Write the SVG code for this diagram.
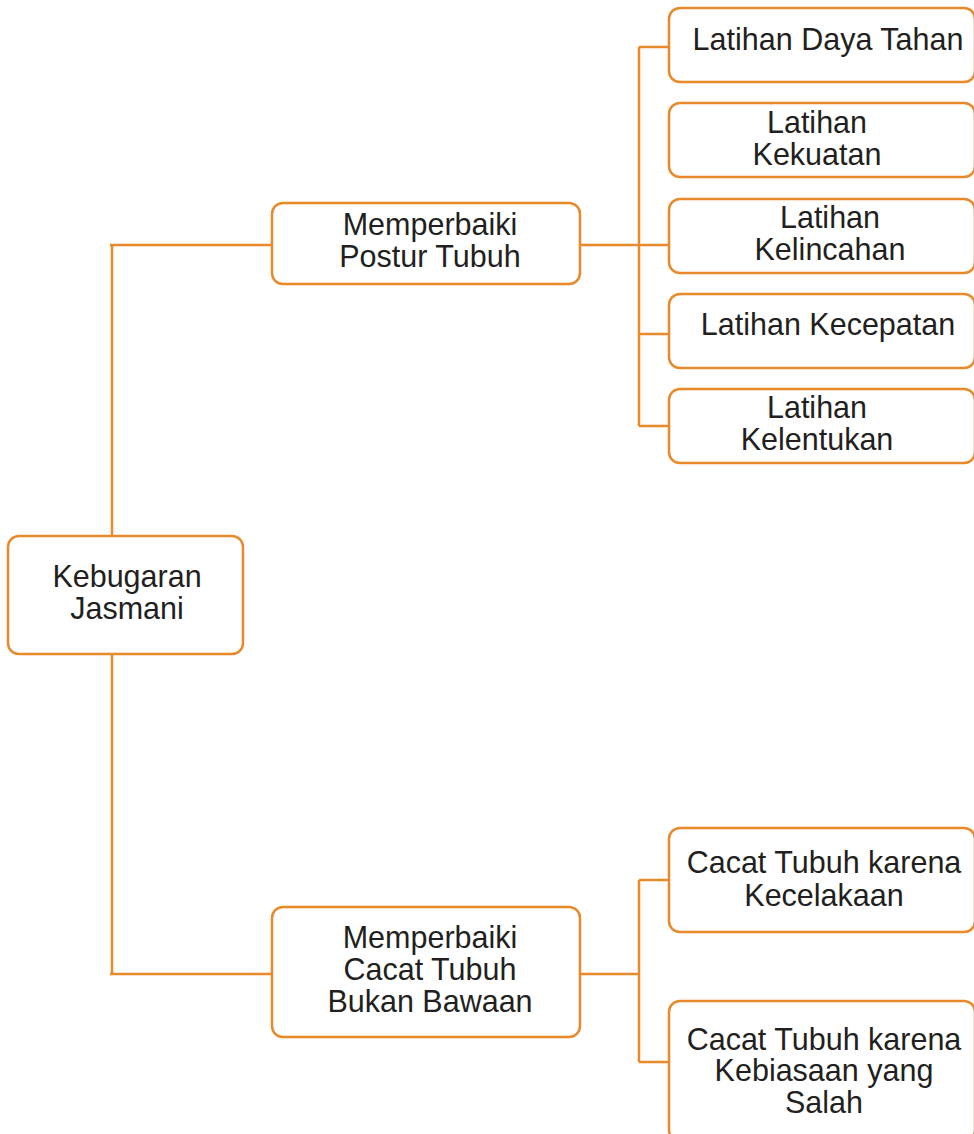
<svg xmlns="http://www.w3.org/2000/svg" width="974" height="1134" viewBox="0 0 974 1134">
<style>
.box{fill:#fff;stroke:#E8892A;stroke-width:2.5}
.ln{fill:none;stroke:#E8892A;stroke-width:2.5}
text{font-family:"Liberation Sans",Arial,sans-serif;font-size:30.5px;fill:#231f20;text-anchor:middle}
</style>
<rect width="974" height="1134" fill="#fff"/>
<g id="connectors">
<path class="ln" d="M112,245 V536 M112,654 V974 M110,245 H272 M110,974 H272"/>
<path class="ln" d="M580,245 H668 M639,47 V426 M639,47 H668 M639,334 H670 M639,426 H670"/>
<path class="ln" d="M580,974 H639 M639,880 V1062 M639,880 H669 M639,1062 H669"/>
</g>
<g id="n-root"><rect class="box" x="8" y="536" width="235" height="118" rx="11"/><text x="127" y="587">Kebugaran</text><text x="127" y="619">Jasmani</text></g>
<g id="n-postur"><rect class="box" x="272" y="203" width="308" height="81" rx="11"/><text x="430" y="235">Memperbaiki</text><text x="430" y="267">Postur Tubuh</text></g>
<g id="n-cacat"><rect class="box" x="272" y="907" width="308" height="130" rx="11"/><text x="430" y="948">Memperbaiki</text><text x="430" y="980">Cacat Tubuh</text><text x="430" y="1012">Bukan Bawaan</text></g>
<g id="n-dayatahan"><rect class="box" x="669" y="8" width="306" height="74" rx="11"/><text x="828" y="50">Latihan Daya Tahan</text></g>
<g id="n-kekuatan"><rect class="box" x="669" y="103" width="306" height="74" rx="11"/><text x="817" y="133">Latihan</text><text x="817" y="165">Kekuatan</text></g>
<g id="n-kelincahan"><rect class="box" x="669" y="199" width="306" height="74" rx="11"/><text x="830" y="228">Latihan</text><text x="830" y="260">Kelincahan</text></g>
<g id="n-kecepatan"><rect class="box" x="669" y="294" width="306" height="74" rx="11"/><text x="828" y="335">Latihan Kecepatan</text></g>
<g id="n-kelentukan"><rect class="box" x="669" y="389" width="306" height="74" rx="11"/><text x="817" y="418">Latihan</text><text x="817" y="450">Kelentukan</text></g>
<g id="n-kecelakaan"><rect class="box" x="669" y="828" width="306" height="104" rx="11"/><text x="824" y="873">Cacat Tubuh karena</text><text x="824" y="906">Kecelakaan</text></g>
<g id="n-kebiasaan"><rect class="box" x="669" y="1001" width="306" height="140" rx="11"/><text x="824" y="1050">Cacat Tubuh karena</text><text x="824" y="1081">Kebiasaan yang</text><text x="824" y="1113">Salah</text></g>
</svg>
